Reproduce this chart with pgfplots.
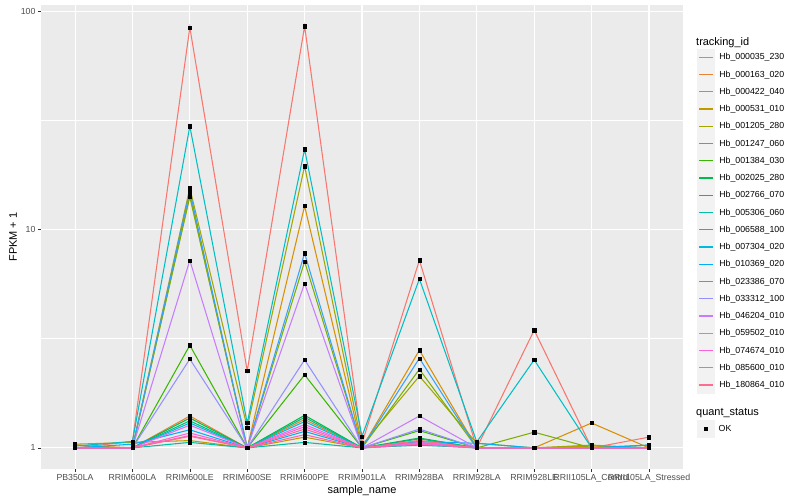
\documentclass[border=0pt]{standalone}
\usepackage{fontspec}
\setmainfont{Liberation Sans}
\usepackage{pgfplots}
\pgfplotsset{compat=1.18}
\usepackage{pgfplotstable}

% ggplot hue palette, 20 levels
\definecolor{c1}{HTML}{F8766D}
\definecolor{c2}{HTML}{EA8331}
\definecolor{c3}{HTML}{D89000}
\definecolor{c4}{HTML}{C09B00}
\definecolor{c5}{HTML}{A3A500}
\definecolor{c6}{HTML}{7CAE00}
\definecolor{c7}{HTML}{39B600}
\definecolor{c8}{HTML}{00BB4E}
\definecolor{c9}{HTML}{00BF7D}
\definecolor{c10}{HTML}{00C1A3}
\definecolor{c11}{HTML}{00BFC4}
\definecolor{c12}{HTML}{00BAE0}
\definecolor{c13}{HTML}{00B0F6}
\definecolor{c14}{HTML}{35A2FF}
\definecolor{c15}{HTML}{9590FF}
\definecolor{c16}{HTML}{C77CFF}
\definecolor{c17}{HTML}{E76BF3}
\definecolor{c18}{HTML}{FA62DB}
\definecolor{c19}{HTML}{FF62BC}
\definecolor{c20}{HTML}{FF6C91}
\definecolor{panelgrey}{HTML}{EBEBEB}
\definecolor{keygrey}{HTML}{F2F2F2}
\definecolor{grey20}{HTML}{333333}
\definecolor{grey30}{HTML}{4D4D4D}

\newcommand\ticksz{\fontsize{8.8}{10}\selectfont}
\newcommand\titlesz{\fontsize{11}{13}\selectfont}

% FPKM + 1, one column per tracking_id, one row per sample
\pgfplotstableread{
x  s1   s2   s3   s4   s5   s6   s7   s8   s9   s10  s11   s12  s13  s14  s15  s16  s17  s18  s19  s20
0  1.00 1.00 1.03 1.04 1.00 1.00 1.00 1.00 1.00 1.00 1.02  1.00 1.00 1.00 1.00 1.00 1.00 1.00 1.00 1.00
1  1.07 1.00 1.00 1.06 1.00 1.00 1.00 1.00 1.00 1.00 1.07  1.00 1.04 1.00 1.00 1.00 1.00 1.00 1.00 1.00
2  84.1 1.40 14.4 1.08 15.5 14.1 2.95 1.37 1.33 1.06 29.7  1.30 1.21 15.0 2.55 7.22 1.27 1.17 1.14 1.13
3  2.25 1.00 1.00 1.00 1.24 1.00 1.00 1.00 1.00 1.00 1.30  1.00 1.00 1.00 1.00 1.00 1.00 1.00 1.00 1.00
4  85.3 1.35 12.8 1.12 19.5 7.14 2.16 1.41 1.38 1.06 23.3  1.32 1.19 7.79 2.53 5.66 1.28 1.25 1.15 1.22
5  1.05 1.00 1.00 1.00 1.03 1.00 1.00 1.00 1.00 1.00 1.13  1.00 1.00 1.00 1.00 1.00 1.00 1.00 1.00 1.00
6  7.23 1.08 2.80 1.05 2.13 2.29 1.20 1.11 1.10 1.03 5.94  1.06 1.07 2.57 1.22 1.40 1.05 1.06 1.04 1.08
7  1.00 1.00 1.00 1.00 1.05 1.00 1.00 1.00 1.00 1.00 1.065 1.00 1.05 1.00 1.00 1.00 1.00 1.00 1.00 1.00
8  3.46 1.00 1.00 1.00 1.00 1.18 1.00 1.00 1.00 1.00 2.53  1.00 1.00 1.00 1.00 1.00 1.00 1.00 1.00 1.00
9  1.00 1.00 1.30 1.02 1.03 1.00 1.00 1.00 1.00 1.00 1.00  1.00 1.00 1.00 1.00 1.00 1.00 1.00 1.00 1.00
10 1.12 1.00 1.00 1.00 1.00 1.00 1.00 1.00 1.00 1.00 1.03  1.00 1.03 1.00 1.00 1.00 1.00 1.00 1.00 1.00
}\fpkm

\begin{document}
\begin{tikzpicture}
\useasboundingbox (0,0) rectangle (800bp,500bp);
\begin{axis}[
    at={(40.6bp,31bp)}, anchor=south west,
    width=642.8bp, height=464bp, scale only axis,
    xmin=-0.6, xmax=10.6,
    ymode=log, ymin=0.8005, ymax=106.6,
    xtick={0,...,10},
    xticklabels={PB350LA,RRIM600LA,RRIM600LE,RRIM600SE,RRIM600PE,RRIM901LA,RRIM928BA,RRIM928LA,RRIM928LE,RRII105LA\_Control,RRII105LA\_Stressed},
    ytick={1,10,100}, yticklabels={1,10,100},
    minor ytick={3.1623,31.623},
    grid=both,
    major grid style={white, line width=1.07bp},
    minor grid style={white, line width=0.53bp},
    axis background/.style={fill=panelgrey},
    axis line style={draw=none},
    tick align=outside, tick pos=left,
    major tick length=2.75bp, minor tick length=0pt,
    tick style={grey20, line width=0.5bp},
    /pgf/number format/assume math mode=true,
    ticklabel style={font=\ticksz, text=grey30},
    xticklabel style={inner sep=0pt, anchor=north, yshift=-2.2bp},
    yticklabel style={inner sep=0pt, anchor=east, xshift=-2.2bp},
    xlabel={sample\_name}, ylabel={FPKM + 1},
    label style={font=\titlesz},
    xlabel style={at={(axis description cs:0.5,-0.046)}, anchor=center},
    ylabel style={at={(axis description cs:-0.0429,0.5)}, anchor=center},
    legend cell align=left,
    legend style={at={(axis description cs:1.0212,0.9058)}, anchor=north west,
        draw=none, fill=none, inner sep=0pt, outer sep=0pt,
        row sep=0pt, column sep=4bp, font=\ticksz,
        nodes={inner sep=0pt}},
    legend image code/.code={
        \fill[keygrey] (0bp,-8.1bp) rectangle (17.28bp,8.1bp);
        \draw[#1, line width=1.3bp] (1.7bp,0bp) -- (15.6bp,0bp);
    },
]
% lines
\pgfplotsinvokeforeach{1,...,20}{
    \addplot[color=c#1, line width=1.05bp, mark=none] table[x=x, y=s#1]{\fpkm};
}
% points on top of all lines
\pgfplotsinvokeforeach{1,...,20}{
    \addplot[forget plot, only marks, mark=square*, mark size=1.6bp, black] table[x=x, y=s#1]{\fpkm};
}
\legend{Hb\_000035\_230,Hb\_000163\_020,Hb\_000422\_040,Hb\_000531\_010,Hb\_001205\_280,
    Hb\_001247\_060,Hb\_001384\_030,Hb\_002025\_280,Hb\_002766\_070,Hb\_005306\_060,
    Hb\_006588\_100,Hb\_007304\_020,Hb\_010369\_020,Hb\_023386\_070,Hb\_033312\_100,
    Hb\_046204\_010,Hb\_059502\_010,Hb\_074674\_010,Hb\_085600\_010,Hb\_180864\_010}
\end{axis}

% second legend: quant_status
\begin{axis}[
    at={(40.6bp,31bp)}, anchor=south west,
    width=642.8bp, height=464bp, scale only axis,
    hide axis, xmin=0, xmax=1, ymin=0, ymax=1,
    legend cell align=left,
    legend style={at={(axis description cs:1.0212,0.1047)}, anchor=north west,
        draw=none, fill=none, inner sep=0pt, outer sep=0pt,
        row sep=0pt, column sep=4bp, font=\ticksz,
        nodes={inner sep=0pt}},
    legend image code/.code={
        \fill[keygrey] (0bp,-8.1bp) rectangle (17.28bp,8.1bp);
        \draw[#1] plot coordinates {(8.64bp,0bp)};
    },
]
\addlegendimage{black, only marks, mark=square*, mark size=1.6bp}
\addlegendentry{OK}
\end{axis}

\node[anchor=west, font=\titlesz, inner sep=0pt] at (696bp,457.8bp) {tracking\_id};
\node[anchor=west, font=\titlesz, inner sep=0pt] at (696bp,86.5bp) {quant\_status};
\end{tikzpicture}
\end{document}
